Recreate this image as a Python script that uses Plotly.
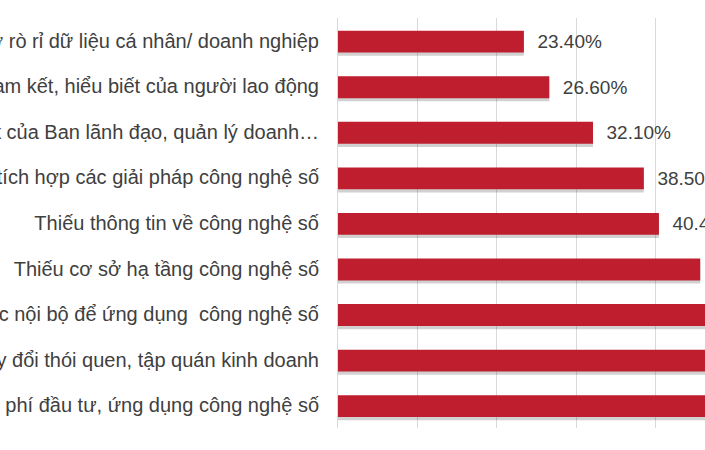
import plotly.graph_objects as go

# categories top -> bottom
categories = [
    "Lo ngại về nguy cơ rò rỉ dữ liệu cá nhân/ doanh nghiệp",
    "Thiếu cam kết, hiểu biết của người lao động",
    "Hạn chế về nhận thức, hiểu biết của Ban lãnh đạo, quản lý doanh…",
    "Khó khăn trong tích hợp các giải pháp công nghệ số",
    "Thiếu thông tin về công nghệ số",
    "Thiếu cơ sở hạ tầng công nghệ số",
    "Thiếu nhân lực nội bộ để ứng dụng  công nghệ số",
    "Khó khăn trong thay đổi thói quen, tập quán kinh doanh",
    "Chi phí đầu tư, ứng dụng công nghệ số",
]
values = [23.4, 26.6, 32.1, 38.5, 40.4, 45.6, 47.1, 52.5, 55.6]
labels = ["\u00a0\u00a0%.2f%%" % v for v in values]

RED = "#BE1E2D"
TXT = "#404040"
FONT = "Liberation Sans, Arial, sans-serif"

fig = go.Figure()

# soft drop shadow under each bar
fig.add_trace(go.Bar(
    y=categories, x=values, orientation="h",
    marker=dict(color="rgba(0,0,0,0.18)", line=dict(width=0)),
    width=0.48, offset=-0.15,
    hoverinfo="skip", showlegend=False,
))
fig.add_trace(go.Bar(
    y=categories, x=values, orientation="h",
    marker=dict(color=RED, line=dict(width=0)),
    width=0.48, offset=-0.22,
    text=labels, textposition="outside", cliponaxis=False,
    textfont=dict(family=FONT, size=19, color=TXT),
    showlegend=False,
))

fig.update_layout(
    width=705, height=450,
    margin=dict(l=338, r=0, t=18, b=22),
    paper_bgcolor="white", plot_bgcolor="white",
    barmode="overlay",
    font=dict(family=FONT, size=19, color=TXT),
)
fig.update_xaxes(
    range=[0, 46.2], dtick=10, showticklabels=False,
    showgrid=True, gridcolor="#D9D9D9", gridwidth=1,
    zeroline=False, showline=False,
)
fig.update_yaxes(
    autorange="reversed", automargin=False,
    showline=True, linecolor="#D9D9D9", linewidth=1,
    showgrid=False, ticks="", ticklabelstandoff=14,
    tickfont=dict(family=FONT, size=20, color=TXT),
)

# drop the default body margin so the figure sits at the page corner
fig.write_html("out.html", config={"displayModeBar": False},
               post_script="document.body.style.margin='0';")
